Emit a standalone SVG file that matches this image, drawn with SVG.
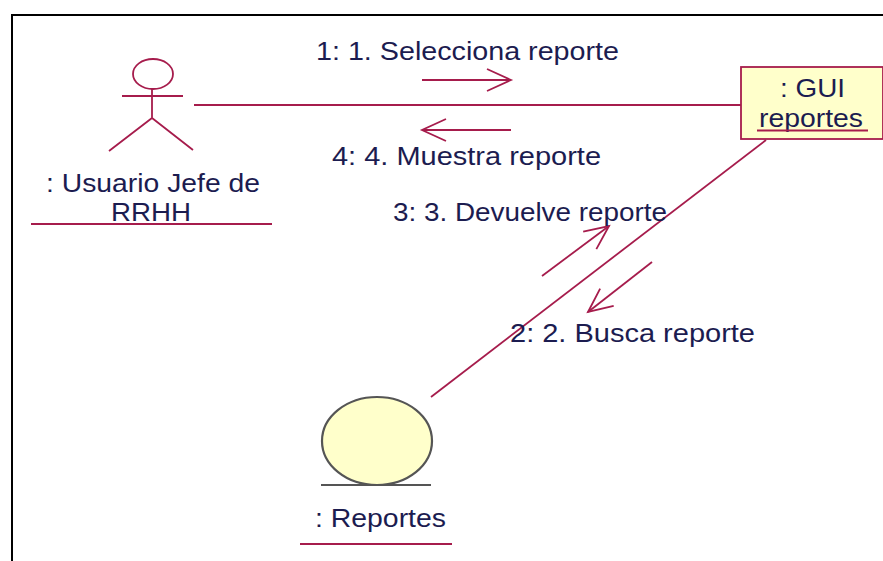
<svg xmlns="http://www.w3.org/2000/svg" width="883" height="561" viewBox="0 0 883 561">
<style>
.l{fill:none;stroke:#a61c4c;stroke-width:1.8}
.t{font-family:"Liberation Sans",Arial,sans-serif;font-size:25px;fill:#1c1c50;text-anchor:start}
</style>
<defs><marker id="a" markerUnits="userSpaceOnUse" markerWidth="40" markerHeight="30" refX="30" refY="15" orient="auto"><path d="M6 4L30 15L6 26" fill="none" stroke="#a61c4c" stroke-width="1.8"/></marker></defs>
<rect width="883" height="561" fill="#fff"/>
<path d="M12 561V15H883" fill="none" stroke="#000" stroke-width="2"/>
<g id="connectors">
<path class="l" d="M194 105H741"/>
<path class="l" d="M766 140L431 397"/>
<path class="l" d="M422 80H511" marker-end="url(#a)"/>
<path class="l" d="M511 130H422" marker-end="url(#a)"/>
<path class="l" d="M542 276L609 226" marker-end="url(#a)"/>
<path class="l" d="M652 262L588 312" marker-end="url(#a)"/>
</g>
<g id="labels">
<text class="t" x="316" y="60" textLength="303" lengthAdjust="spacingAndGlyphs">1: 1. Selecciona reporte</text>
<text class="t" x="332" y="165" textLength="269" lengthAdjust="spacingAndGlyphs">4: 4. Muestra reporte</text>
<text class="t" x="393" y="221" textLength="274" lengthAdjust="spacingAndGlyphs">3: 3. Devuelve reporte</text>
<text class="t" x="510" y="342" textLength="245" lengthAdjust="spacingAndGlyphs">2: 2. Busca reporte</text>
</g>
<g id="actor">
<ellipse class="l" cx="153" cy="74" rx="20" ry="15"/>
<path class="l" d="M152 89V118M122 96H183M152 118L109 151M152 118L193 150"/>
<text class="t" x="46" y="192" textLength="214" lengthAdjust="spacingAndGlyphs">: Usuario Jefe de</text>
<text class="t" x="111" y="221" textLength="80" lengthAdjust="spacingAndGlyphs">RRHH</text>
<path class="l" d="M31 224H272"/>
</g>
<g id="gui">
<rect class="l" x="741" y="67" width="142" height="72" style="fill:#ffffcb"/>
<text class="t" x="780" y="97" textLength="65" lengthAdjust="spacingAndGlyphs">: GUI</text>
<text class="t" x="759" y="127" textLength="104" lengthAdjust="spacingAndGlyphs">reportes</text>
<path class="l" d="M757 130.500H868"/>
</g>
<g id="reportes">
<ellipse cx="377" cy="441" rx="55" ry="44" fill="#ffffcb" stroke="#555" stroke-width="2.200"/>
<path d="M321 485H431" fill="none" stroke="#555" stroke-width="2"/>
<text class="t" x="315" y="527" textLength="131" lengthAdjust="spacingAndGlyphs">: Reportes</text>
<path class="l" d="M300 544H452"/>
</g>
</svg>
